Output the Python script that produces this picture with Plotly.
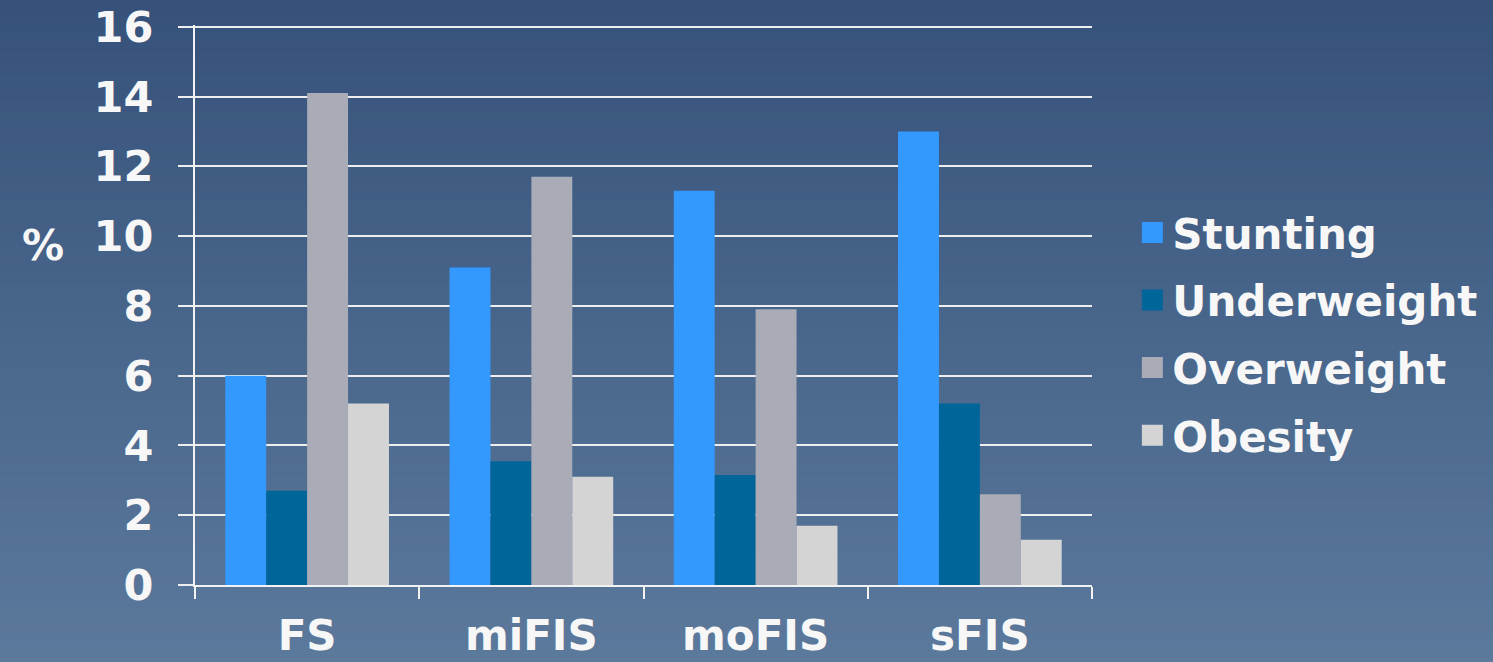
"""
Food insecurity vs. child nutrition status - grouped bar chart
"""

import plotly.graph_objects as go

categories = ["FS", "miFIS", "moFIS", "sFIS"]
series_names = ["Stunting", "Underweight", "Overweight", "Obesity"]
stunting = [6.0, 9.1, 11.3, 13.0]
underweight = [2.7, 3.55, 3.15, 5.2]
overweight = [14.1, 11.7, 7.9, 2.6]
obesity = [5.2, 3.1, 1.7, 1.3]
y_ticks = [0, 2, 4, 6, 8, 10, 12, 14, 16]

colors = ["#3399FF", "#006699", "#A9ABB6", "#D4D4D4"]
font_family = "DejaVu Sans"
text_color = "#F7F7F7"

fig = go.Figure()

for name, values, color in zip(
    series_names, [stunting, underweight, overweight, obesity], colors
):
    fig.add_trace(
        go.Bar(
            name=name,
            legendgroup=name,
            showlegend=False,
            x=categories,
            y=values,
            marker=dict(color=color, line=dict(width=0)),
        )
    )
    # legend entry with a bigger square swatch than the bar default
    fig.add_trace(
        go.Scatter(
            name=name,
            legendgroup=name,
            x=[None],
            y=[None],
            mode="markers",
            marker=dict(
                symbol="square", size=16, color=color, line=dict(width=5, color=color)
            ),
            hoverinfo="skip",
        )
    )

# vertical gradient background (dark blue at top, lighter at bottom)
top = (52, 80, 121)
bottom = (93, 123, 157)
steps = 60
for i in range(steps):
    t = i / (steps - 1)
    c = tuple(round(top[k] + (bottom[k] - top[k]) * t) for k in range(3))
    fig.add_shape(
        type="rect",
        xref="paper",
        yref="paper",
        x0=-0.5,
        x1=1.6,
        y0=1.1 - (i + 1) * 1.3 / steps,
        y1=1.1 - i * 1.3 / steps + 0.005,
        fillcolor="rgb(%d,%d,%d)" % c,
        line=dict(width=0),
        layer="below",
    )

fig.add_annotation(
    text="%",
    xref="paper",
    yref="paper",
    x=-0.17,
    y=0.607,
    xanchor="center",
    yanchor="middle",
    showarrow=False,
    font=dict(family=font_family, size=42, color=text_color, weight="bold"),
)

fig.update_layout(
    width=1493,
    height=662,
    barmode="group",
    bargap=0.27,
    bargroupgap=0,
    paper_bgcolor="rgb(72,102,140)",
    plot_bgcolor="rgba(0,0,0,0)",
    font=dict(family=font_family, color=text_color, size=40),
    margin=dict(l=195, r=401, t=25, b=77, autoexpand=False),
    showlegend=True,
    legend=dict(
        x=1.045,
        y=0.448,
        yanchor="middle",
        xanchor="left",
        font=dict(family=font_family, size=42, color=text_color, weight="bold"),
        bgcolor="rgba(0,0,0,0)",
        tracegroupgap=10,
    ),
)

fig.update_yaxes(
    range=[0, 16.05],
    tickvals=y_ticks,
    automargin=False,
    showgrid=True,
    gridcolor="#EEEEEE",
    gridwidth=2,
    showline=True,
    linecolor="#F2F2F2",
    linewidth=2,
    ticks="outside",
    ticklen=15,
    tickwidth=2,
    tickcolor="#EEEEEE",
    ticklabelstandoff=16,
    zeroline=False,
    tickfont=dict(family=font_family, size=43, color=text_color, weight="bold"),
)

fig.update_xaxes(
    automargin=False,
    showline=True,
    linecolor="#F2F2F2",
    linewidth=2,
    ticks="outside",
    tickson="boundaries",
    ticklen=12,
    tickwidth=2,
    tickcolor="#F2F2F2",
    ticklabelstandoff=13,
    tickfont=dict(family=font_family, size=42, color=text_color, weight="bold"),
)

fig.write_html(
    "out.html",
    config={"displayModeBar": False},
    post_script="document.body.style.margin='0';",
)
